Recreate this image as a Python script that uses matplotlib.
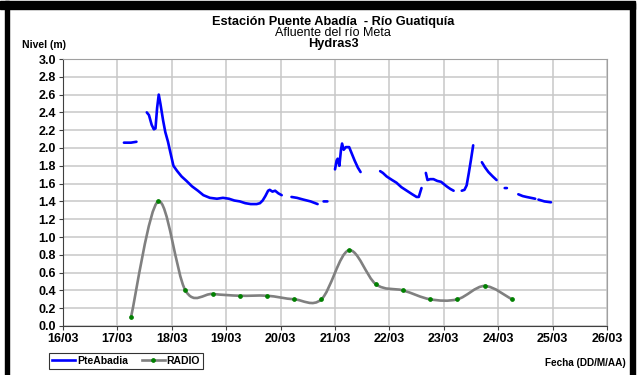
import numpy as np
import matplotlib
matplotlib.use("Agg")
import matplotlib.pyplot as plt
from matplotlib.path import Path
from matplotlib.patches import PathPatch, Rectangle
from matplotlib.lines import Line2D

plt.rcParams['font.family'] = ['Liberation Sans', 'DejaVu Sans']

# days counted from 16/03 00:00
fechas = ['16/03', '17/03', '18/03', '19/03', '20/03', '21/03',
          '22/03', '23/03', '24/03', '25/03', '26/03']
niveles = [0.0, 0.2, 0.4, 0.6, 0.8, 1.0, 1.2, 1.4, 1.6, 1.8, 2.0,
           2.2, 2.4, 2.6, 2.8, 3.0]

nan = np.nan
# PteAbadia sensor (gaps marked with nan)
pte_dias = [1.12, 1.25, 1.35, nan,
            1.54, 1.58, 1.63, 1.67, 1.70, 1.73, 1.76, 1.79, 1.84, 1.88, 1.93,
            1.97, 2.03, 2.10, 2.18, 2.27, 2.37, 2.48, 2.58, 2.70, 2.83, 2.94,
            3.05, 3.15, 3.25, 3.35, 3.45, 3.56, 3.62, 3.67, 3.72, 3.77, 3.80,
            3.85, 3.90, 3.96, 4.02, nan,
            4.20, 4.30, 4.42, 4.55, 4.68, nan,
            4.79, 4.86, nan,
            5.00, 5.03, 5.05, 5.08, 5.11, 5.13, 5.16, 5.20, 5.26, 5.30, 5.36,
            5.42, 5.47, nan,
            5.83, 5.88, 5.95, 6.05, 6.13, 6.22, 6.32, 6.42, 6.50, 6.54, 6.59, nan,
            6.67, 6.70, 6.75, 6.81, 6.88, 6.95, 7.05, 7.12, 7.18, nan,
            7.33, 7.38, 7.42, 7.46, 7.50, 7.54, nan,
            7.70, 7.76, 7.82, 7.90, 7.97, nan,
            8.12, 8.16, nan,
            8.37, 8.45, 8.52, 8.60, 8.68, nan,
            8.74, 8.85, 8.97]
pte_nivel = [2.06, 2.06, 2.07, nan,
             2.40, 2.37, 2.26, 2.21, 2.22, 2.45, 2.60, 2.50, 2.31, 2.18, 2.07,
             1.96, 1.80, 1.74, 1.68, 1.63, 1.57, 1.52, 1.47, 1.44, 1.43, 1.44,
             1.43, 1.41, 1.40, 1.38, 1.37, 1.37, 1.38, 1.41, 1.46, 1.52, 1.53,
             1.51, 1.52, 1.49, 1.47, nan,
             1.45, 1.44, 1.42, 1.40, 1.37, nan,
             1.40, 1.40, nan,
             1.76, 1.86, 1.88, 1.80, 1.98, 2.05, 1.98, 2.01, 2.01, 1.95, 1.86,
             1.78, 1.73, nan,
             1.74, 1.72, 1.68, 1.64, 1.61, 1.56, 1.52, 1.48, 1.45, 1.45, 1.55, nan,
             1.72, 1.64, 1.65, 1.65, 1.63, 1.62, 1.57, 1.54, 1.52, nan,
             1.52, 1.53, 1.58, 1.72, 1.87, 2.03, nan,
             1.84, 1.78, 1.73, 1.68, 1.64, nan,
             1.55, 1.55, nan,
             1.48, 1.46, 1.45, 1.44, 1.43, nan,
             1.42, 1.40, 1.39]

# RADIO readings (06:00 and 18:00)
radio_dias = [1.25, 1.75, 2.25, 2.75, 3.25, 3.75, 4.25, 4.75,
              5.25, 5.75, 6.25, 6.75, 7.25, 7.75, 8.25]
radio_nivel = [0.10, 1.40, 0.40, 0.36, 0.34, 0.34, 0.30, 0.30,
               0.85, 0.47, 0.40, 0.30, 0.30, 0.45, 0.30]

AZUL = '#0000ff'
GRIS = '#808080'
VERDE = '#008000'

fig = plt.figure(figsize=(6.37, 3.75), dpi=100)
ax = fig.add_axes([63 / 637, 49 / 375, 544 / 637, 267 / 375])

ax.plot(pte_dias, pte_nivel, color=AZUL, lw=1.9, solid_capstyle='round',
        zorder=3)

# Excel-style smoothed line through the RADIO points
pts = np.column_stack([radio_dias, radio_nivel])
verts = [pts[0]]
codes = [Path.MOVETO]
n = len(pts)
for i in range(n - 1):
    p0 = pts[max(i - 1, 0)]
    p1 = pts[i]
    p2 = pts[i + 1]
    p3 = pts[min(i + 2, n - 1)]
    verts += [p1 + (p2 - p0) / 6, p2 - (p3 - p1) / 6, p2]
    codes += [Path.CURVE4] * 3
ax.add_patch(PathPatch(Path(verts, codes), fill=False, edgecolor=GRIS,
                       lw=1.9, zorder=3))
ax.plot(radio_dias, radio_nivel, ls='none', marker='o', ms=2.4,
        color=VERDE, zorder=4)

ax.set_xlim(0, 10)
ax.set_ylim(0, 3)
ax.set_xticks(range(len(fechas)))
ax.set_xticklabels(fechas)
ax.set_yticks(niveles)
ax.set_yticklabels(['%.1f' % v for v in niveles])
ax.grid(True, color='#c8c8c8', lw=1.1)
ax.set_axisbelow(True)
for s in ['top', 'right']:
    ax.spines[s].set_color('#a0a0a0')
for s in ['left', 'bottom']:
    ax.spines[s].set_color('#404040')
ax.tick_params(direction='out', length=3, width=0.8, color='#404040',
               labelsize=9, pad=2)
for lab in ax.get_xticklabels() + ax.get_yticklabels():
    lab.set_fontweight('bold')

fig.text(0.523, 1 - 21.5 / 375, 'Estación Puente Abadía  - Río Guatiquía',
         ha='center', va='center', fontsize=9.2, fontweight='bold')
fig.text(0.523, 1 - 33 / 375, 'Afluente del río Meta',
         ha='center', va='center', fontsize=9)
fig.text(0.523, 1 - 44.5 / 375, 'Hydras3',
         ha='center', va='center', fontsize=9.2, fontweight='bold')
fig.text(22 / 637, 1 - 44.5 / 375, 'Nivel (m)',
         ha='left', va='center', fontsize=7.5, fontweight='bold')
fig.text(626 / 637, 1 - 363 / 375, 'Fecha (DD/M/AA)',
         ha='right', va='center', fontsize=7.2, fontweight='bold')

handles = [Line2D([], [], color=AZUL, lw=1.9),
           Line2D([], [], color=GRIS, lw=1.9, marker='o', ms=2.4,
                  mfc=VERDE, mec=VERDE)]
leg = fig.legend(handles, ['PteAbadia', 'RADIO'], ncol=2,
                 loc='center left', bbox_to_anchor=(49 / 637, 1 - 361 / 375),
                 frameon=True, fancybox=False, edgecolor='black',
                 prop={'size': 7.5, 'weight': 'bold'}, handlelength=2.2,
                 handletextpad=0.2, columnspacing=1.3, borderpad=0.3,
                 borderaxespad=0)
leg.get_frame().set_linewidth(0.8)

# black chart border bands
for x, y, w, h in [(0, 366, 635, 8), (5, 0, 4, 374), (630, 0, 5, 372)]:
    fig.patches.append(Rectangle((x / 637, y / 375), w / 637, h / 375,
                                 transform=fig.transFigure, color='black',
                                 zorder=10))

fig.savefig('out.png', dpi=100)
